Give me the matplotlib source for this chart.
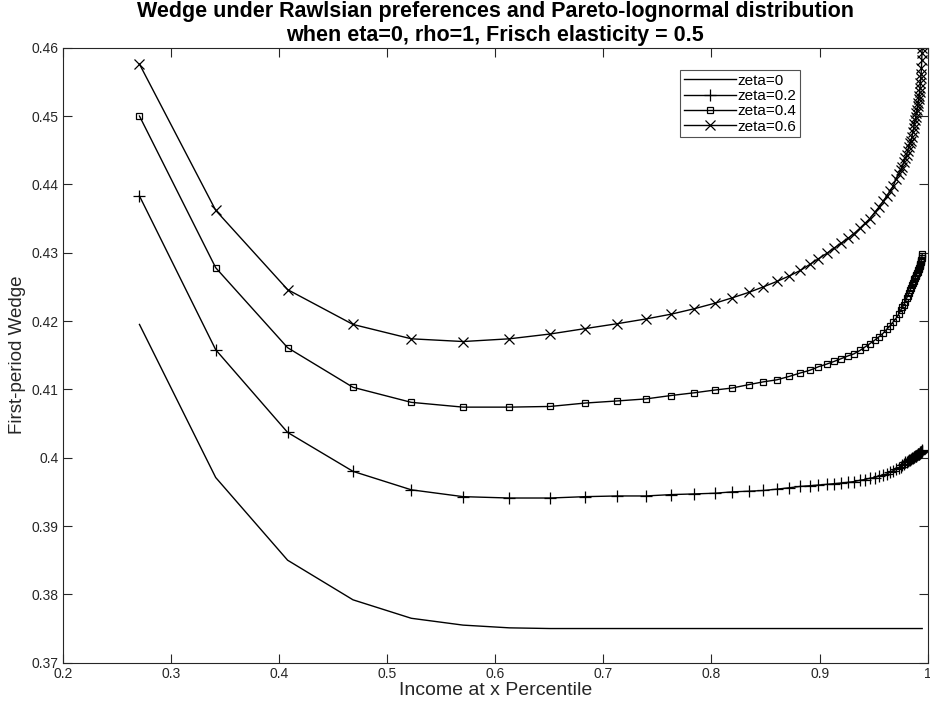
import matplotlib
matplotlib.use("Agg")
import matplotlib.pyplot as plt
from matplotlib.ticker import FixedLocator, FuncFormatter

plt.rcParams['font.family'] = ['Liberation Sans', 'DejaVu Sans']

title_text = "Wedge under Rawlsian preferences and Pareto-lognormal distribution\nwhen eta=0, rho=1, Frisch elasticity = 0.5"
xlabel_text = "Income at x Percentile"
ylabel_text = "First-period Wedge"
series_labels = ["zeta=0", "zeta=0.2", "zeta=0.4", "zeta=0.6"]

x_pct = [0.271, 0.3415, 0.408, 0.4685, 0.5224, 0.5703, 0.6131, 0.6507, 0.6834, 0.7124,
         0.7392, 0.7626, 0.7841, 0.8030, 0.8193, 0.8347, 0.8480, 0.8606, 0.8720, 0.8822,
         0.8911, 0.8988, 0.9066, 0.9136, 0.9201, 0.9263, 0.9318, 0.9374, 0.9420, 0.9466,
         0.9510, 0.9550, 0.9587, 0.9621, 0.9652, 0.9682, 0.9707, 0.9732,
         0.9750, 0.9765, 0.9779, 0.9792, 0.9804, 0.9815, 0.9826, 0.9836, 0.9845, 0.9854,
         0.9862, 0.9870, 0.9877, 0.9884, 0.9890, 0.9896, 0.9902, 0.9907, 0.9912, 0.9917,
         0.9921, 0.9925, 0.9929, 0.9933, 0.9936, 0.9939, 0.9942, 0.9945, 0.9947, 0.9949]

wedge_zeta0 = [0.4195, 0.3971, 0.3850, 0.3792, 0.3765, 0.3755, 0.3751, 0.3750, 0.3750, 0.3750,
               0.3750, 0.3750, 0.3750, 0.3750, 0.3750, 0.3750, 0.3750, 0.3750, 0.3750, 0.3750,
               0.3750, 0.3750, 0.3750, 0.3750, 0.3750, 0.3750, 0.3750, 0.3750, 0.3750, 0.3750,
               0.3750, 0.3750, 0.3750, 0.3750, 0.3750, 0.3750, 0.3750, 0.3750,
               0.3750, 0.3750, 0.3750, 0.3750, 0.3750, 0.3750, 0.3750, 0.3750, 0.3750, 0.3750,
               0.3750, 0.3750, 0.3750, 0.3750, 0.3750, 0.3750, 0.3750, 0.3750, 0.3750, 0.3750,
               0.3750, 0.3750, 0.3750, 0.3750, 0.3750, 0.3750, 0.3750, 0.3750, 0.3750, 0.3750]

wedge_zeta02 = [0.4383, 0.4158, 0.4037, 0.3980, 0.3953, 0.3943, 0.3941, 0.3941, 0.3943, 0.3944,
                0.3944, 0.3946, 0.3947, 0.3948, 0.3950, 0.3951, 0.3952, 0.3954, 0.3956, 0.3958,
                0.3959, 0.3960, 0.3961, 0.3962, 0.3963, 0.3964, 0.3965, 0.3967, 0.3968, 0.3970,
                0.3971, 0.3973, 0.3975, 0.3976, 0.3979, 0.3981, 0.3983, 0.3985,
                0.3987, 0.3989, 0.3991, 0.3993, 0.3994, 0.3995, 0.3996, 0.3997, 0.3998, 0.3999,
                0.4000, 0.4001, 0.4001, 0.4002, 0.4003, 0.4003, 0.4004, 0.4005, 0.4005, 0.4006,
                0.4006, 0.4007, 0.4007, 0.4008, 0.4008, 0.4009, 0.4009, 0.4010, 0.4010, 0.4011]

wedge_zeta04 = [0.4500, 0.4278, 0.4161, 0.4103, 0.4081, 0.4074, 0.4074, 0.4075, 0.4080, 0.4083,
                0.4086, 0.4091, 0.4095, 0.4099, 0.4102, 0.4107, 0.4111, 0.4114, 0.4119, 0.4124,
                0.4128, 0.4133, 0.4137, 0.4141, 0.4145, 0.4149, 0.4152, 0.4157, 0.4162, 0.4167,
                0.4172, 0.4177, 0.4182, 0.4188, 0.4193, 0.4199, 0.4204, 0.4210,
                0.4216, 0.4220, 0.4224, 0.4228, 0.4233, 0.4237, 0.4241, 0.4245, 0.4248, 0.4252,
                0.4255, 0.4258, 0.4261, 0.4263, 0.4266, 0.4268, 0.4270, 0.4272, 0.4274, 0.4276,
                0.4278, 0.4280, 0.4282, 0.4284, 0.4286, 0.4288, 0.4290, 0.4292, 0.4295, 0.4298]

wedge_zeta06 = [0.4576, 0.4362, 0.4246, 0.4195, 0.4174, 0.4170, 0.4174, 0.4181, 0.4189, 0.4196,
                0.4203, 0.4210, 0.4218, 0.4226, 0.4234, 0.4242, 0.4250, 0.4258, 0.4266, 0.4274,
                0.4283, 0.4291, 0.4299, 0.4307, 0.4314, 0.4321, 0.4328, 0.4336, 0.4343, 0.4350,
                0.4359, 0.4367, 0.4375, 0.4383, 0.4390, 0.4398, 0.4408, 0.4415,
                0.4421, 0.4426, 0.4432, 0.4438, 0.4443, 0.4449, 0.4455, 0.4460, 0.4464, 0.4469,
                0.4476, 0.4482, 0.4488, 0.4494, 0.4499, 0.4504, 0.4509, 0.4514, 0.4519, 0.4525,
                0.4530, 0.4535, 0.4541, 0.4548, 0.4555, 0.4561, 0.4570, 0.4582, 0.4592, 0.4599]

x_ticks = [0.2, 0.3, 0.4, 0.5, 0.6, 0.7, 0.8, 0.9, 1.0]
y_ticks = [0.37, 0.38, 0.39, 0.40, 0.41, 0.42, 0.43, 0.44, 0.45, 0.46]

axis_gray = '#262626'

fig = plt.figure(figsize=(9.3, 7.09), dpi=100)
ax = fig.add_axes([62.7 / 930, 1 - 662.7 / 709, 865 / 930, 615 / 709])

ax.plot(x_pct, wedge_zeta0, color='black', linewidth=1.0, label=series_labels[0])
ax.plot(x_pct, wedge_zeta02, color='black', linewidth=1.0, marker='+', markersize=8,
        markeredgewidth=0.9, label=series_labels[1])
ax.plot(x_pct, wedge_zeta04, color='black', linewidth=1.0, marker='s', markersize=5,
        markerfacecolor='none', markeredgewidth=0.9, label=series_labels[2])
ax.plot(x_pct, wedge_zeta06, color='black', linewidth=1.0, marker='x', markersize=6.5,
        markeredgewidth=0.9, label=series_labels[3])

ax.set_xlim(0.2, 1.0)
ax.set_ylim(0.37, 0.46)
ax.xaxis.set_major_locator(FixedLocator(x_ticks))
ax.yaxis.set_major_locator(FixedLocator(y_ticks))
fmt = FuncFormatter(lambda v, p: ('%.2f' % v).rstrip('0').rstrip('.'))
ax.xaxis.set_major_formatter(fmt)
ax.yaxis.set_major_formatter(fmt)
ax.tick_params(direction='in', length=6.5, width=0.8, top=True, right=True,
               colors=axis_gray, labelsize=10, labelcolor=axis_gray, pad=3)
for sp in ax.spines.values():
    sp.set_color(axis_gray)
    sp.set_linewidth(0.8)

ax.set_xlabel(xlabel_text, fontsize=14, color=axis_gray, labelpad=1)
ax.set_ylabel(ylabel_text, fontsize=13.5, color=axis_gray, labelpad=4)
ax.set_title(title_text, fontsize=15.5, fontweight='bold', color='black', pad=5, linespacing=1.15)

leg = ax.legend(loc='upper left', bbox_to_anchor=(0.714, 0.9637), fontsize=11,
                frameon=True, fancybox=False, handlelength=3.4, handletextpad=0.1,
                borderpad=0.25, labelspacing=0.08, borderaxespad=0)
leg.get_frame().set_edgecolor(axis_gray)
leg.get_frame().set_linewidth(0.8)

fig.savefig('out.png', dpi=100)
